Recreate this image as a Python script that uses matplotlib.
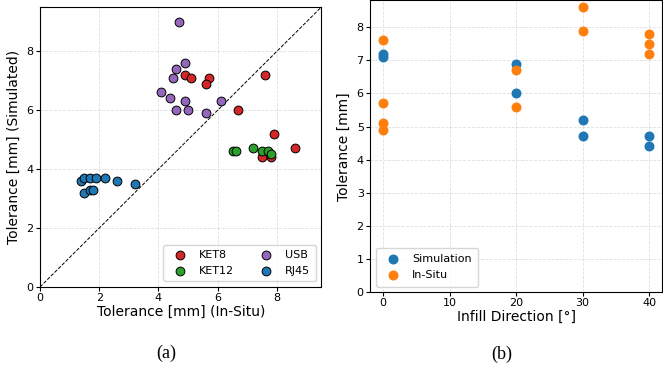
import matplotlib.pyplot as plt
import numpy as np

# (a) in-situ vs simulated tolerance per connector
ket8_insitu = [4.9, 5.1, 5.7, 5.6, 7.6, 6.7, 7.9, 8.6, 7.5, 7.8]
ket8_sim = [7.2, 7.1, 7.1, 6.9, 7.2, 6.0, 5.2, 4.7, 4.4, 4.4]
ket12_insitu = [6.5, 6.6, 7.2, 7.5, 7.7, 7.8]
ket12_sim = [4.6, 4.6, 4.7, 4.6, 4.6, 4.5]
usb_insitu = [4.7, 4.9, 4.6, 4.5, 4.1, 4.4, 4.9, 4.6, 5.0, 5.6, 6.1]
usb_sim = [9.0, 7.6, 7.4, 7.1, 6.6, 6.4, 6.3, 6.0, 6.0, 5.9, 6.3]
rj45_insitu = [1.4, 1.5, 1.7, 1.9, 2.2, 2.6, 3.2, 1.5, 1.7, 1.8]
rj45_sim = [3.6, 3.7, 3.7, 3.7, 3.7, 3.6, 3.5, 3.2, 3.3, 3.3]

# (b) tolerance vs infill direction
sim_angle = [0, 0, 20, 20, 30, 30, 40, 40]
sim_tol = [7.2, 7.1, 6.9, 6.0, 5.2, 4.7, 4.7, 4.4]
insitu_angle = [0, 0, 0, 0, 20, 20, 30, 30, 40, 40, 40]
insitu_tol = [7.6, 5.7, 5.1, 4.9, 6.7, 5.6, 8.6, 7.9, 7.8, 7.5, 7.2]

fig = plt.figure(figsize=(6.63, 3.73), dpi=100)
ax1 = fig.add_axes([0.0603, 0.2306, 0.4245, 0.7506])
ax2 = fig.add_axes([0.558, 0.217, 0.441, 0.782])

groups = [
    ("KET8", ket8_insitu, ket8_sim, "tab:red"),
    ("KET12", ket12_insitu, ket12_sim, "tab:green"),
    ("USB", usb_insitu, usb_sim, "tab:purple"),
    ("RJ45", rj45_insitu, rj45_sim, "tab:blue"),
]
for name, x, y, c in groups:
    ax1.scatter(x, y, s=40, color=c, edgecolor="black", linewidth=0.7,
                label=name, zorder=3)
lim = 9.5
ax1.plot([0, lim], [0, lim], "k--", linewidth=0.7, zorder=2)
ax1.set_xlim(0, lim)
ax1.set_ylim(0, lim)
ax1.set_xticks(np.arange(0, 9, 2))
ax1.set_yticks(np.arange(0, 9, 2))
ax1.set_xlabel("Tolerance [mm] (In-Situ)", fontsize=10, labelpad=1)
ax1.set_ylabel("Tolerance [mm] (Simulated)", fontsize=10, labelpad=4)
ax1.tick_params(labelsize=8, length=3, pad=1.5)
ax1.grid(True, linestyle="--", alpha=0.4, linewidth=0.6)
ax1.legend(loc="lower right", ncol=2, fontsize=8, columnspacing=1.9,
           handletextpad=0.7, borderpad=0.5)

ax2.scatter(sim_angle, sim_tol, s=38, color="tab:blue", label="Simulation",
            zorder=3)
ax2.scatter(insitu_angle, insitu_tol, s=38, color="tab:orange",
            label="In-Situ", zorder=3)
ax2.set_ylim(bottom=0)
ax2.set_xlim(-2, 42)
ax2.set_xticks(np.arange(0, 41, 10))
ax2.set_xlabel("Infill Direction [°]", fontsize=10, labelpad=1)
ax2.set_ylabel("Tolerance [mm]", fontsize=10, labelpad=4)
ax2.tick_params(labelsize=8, length=3, pad=1.5)
ax2.grid(True, linestyle="--", alpha=0.4, linewidth=0.6)
ax2.legend(loc="lower left", fontsize=8, handletextpad=0.7, borderpad=0.6)

fig.text(0.251, 0.053, "(a)", family="Liberation Serif", fontsize=13,
         ha="center", va="center")
fig.text(0.757, 0.051, "(b)", family="Liberation Serif", fontsize=13,
         ha="center", va="center")

fig.savefig("out.png", dpi=100)
